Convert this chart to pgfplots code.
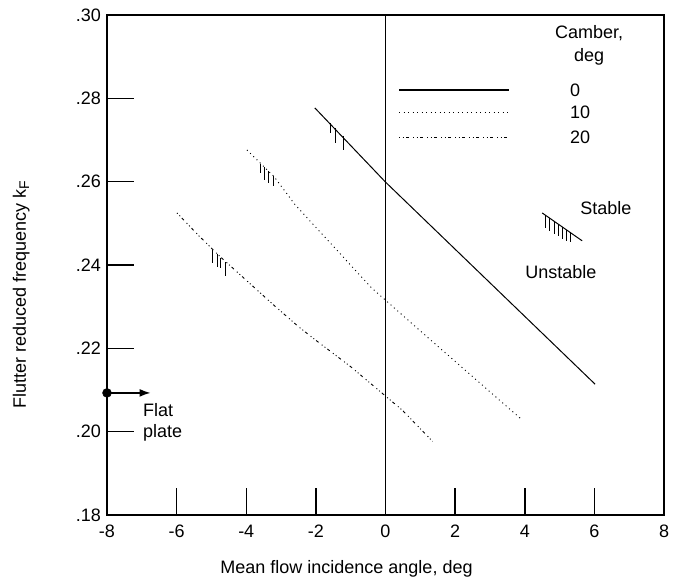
\documentclass[border=0pt]{standalone}
\usepackage{fontspec}
\setmainfont{Liberation Sans}
\usepackage{pgfplots}
\pgfplotsset{compat=1.18}
\usetikzlibrary{arrows.meta}
\begin{document}
\fontsize{18bp}{21bp}\selectfont
\begin{tikzpicture}
\begin{axis}[
  scale only axis, width=557bp, height=500bp,
  xmin=-8, xmax=8, ymin=0.18, ymax=0.30,
  xtick={-8,-6,-4,-2,0,2,4,6,8},
  xticklabels={-8,-6,-4,-2,0,2,4,6,8},
  ytick={0.18,0.20,0.22,0.24,0.26,0.28,0.30},
  yticklabels={.18,.20,.22,.24,.26,.28,.30},
  tick align=inside, xtick pos=bottom, ytick pos=left,
  major tick length=27bp,
  axis line style={line width=1.6bp},
  every tick/.style={black, line width=1.5bp},
  tick label style={font=\fontsize{18bp}{21bp}\selectfont},
  xticklabel style={yshift=-4bp},
  label style={font=\fontsize{18bp}{21bp}\selectfont},
  xlabel={Mean flow incidence angle, deg},
  xlabel style={at={(axis description cs:0.43,0)}, anchor=north, yshift=-39bp},
  ylabel={Flutter reduced frequency k\raisebox{-0.35ex}{\fontsize{14bp}{14bp}\selectfont F}},
  ylabel style={at={(axis description cs:-0.128,0.44)}, anchor=south, rotate=0},
  clip=false,
  unbounded coords=jump,
]
% zero line
\addplot[black, line width=1.5bp] coordinates {(0,0.18) (0,0.30)};

% camber 0
\addplot[black, line width=1bp] coordinates {(-2.03,0.2777) (0,0.2599) (6.02,0.2114)};
% camber 10
\addplot[black, line width=0.9bp, dash pattern=on 1bp off 3.5bp] coordinates {
 (-3.98,0.2676) (-3.2,0.2612) (-2.6,0.2545) (-0.4,0.2345) (1.16,0.2230) (3.9,0.2030)};
% camber 20
\addplot[black, line width=0.9bp, dash pattern=on 1bp off 2.5bp on 1bp off 2.5bp on 3bp off 4bp] coordinates {
 (-5.99,0.2525) (-5.36,0.2470) (-4.75,0.2420) (-3.2,0.2303) (-2.5,0.2252) (-1.98,0.2218) (-1.0,0.2156) (0.49,0.2051) (1.35,0.1977)};

% hatches (stability boundary marks)
\addplot[black, line width=1bp] coordinates {
 (-1.59,0.2741) (-1.59,0.2717) (-1.59,nan)
 (-1.45,0.2729) (-1.45,0.2693) (-1.45,nan)
 (-1.22,0.2710) (-1.22,0.2676)};
\addplot[black, line width=1bp] coordinates {
 (-3.58,0.2643) (-3.58,0.2620) (-3.58,nan)
 (-3.47,0.2635) (-3.47,0.2605) (-3.47,nan)
 (-3.37,0.2626) (-3.37,0.2598) (-3.37,nan)
 (-3.23,0.2614) (-3.23,0.2590)};
\addplot[black, line width=1bp] coordinates {
 (-4.96,0.2435) (-4.96,0.2405) (-4.96,nan)
 (-4.84,0.2426) (-4.84,0.2395) (-4.84,nan)
 (-4.73,0.2418) (-4.73,0.2393) (-4.73,nan)
 (-4.59,0.2407) (-4.59,0.2374)};

% stability key
\addplot[black, line width=1bp] coordinates {(4.5,0.2525) (5.65,0.2458)};
\addplot[black, line width=0.9bp] coordinates {
 (4.60,0.2519) (4.60,0.2490) (4.60,nan)
 (4.72,0.2512) (4.72,0.2482) (4.72,nan)
 (4.84,0.2505) (4.84,0.2475) (4.84,nan)
 (4.96,0.2498) (4.96,0.2469) (4.96,nan)
 (5.08,0.2491) (5.08,0.2463) (5.08,nan)
 (5.20,0.2484) (5.20,0.2458) (5.20,nan)
 (5.32,0.2477) (5.32,0.2455)};

% legend lines
\addplot[black, line width=1.2bp] coordinates {(0.39,0.2820) (3.55,0.2820)};
\addplot[black, line width=0.9bp, dash pattern=on 1bp off 3.5bp] coordinates {(0.39,0.2767) (3.55,0.2767)};
\addplot[black, line width=0.9bp, dash pattern=on 1bp off 2.5bp on 1bp off 2.5bp on 3bp off 4bp] coordinates {(0.39,0.2707) (3.55,0.2707)};

% flat plate marker
\addplot[black, only marks, mark=*, mark size=4.5bp] coordinates {(-8,0.2093)};
\addplot[black, line width=1.5bp, -{Latex[length=11bp,width=8bp]}] coordinates {(-8,0.2093) (-6.75,0.2093)};

\node[anchor=north west, align=left, inner sep=0pt, font=\fontsize{18bp}{21bp}\selectfont] at (axis cs:-6.97,0.2068) {Flat\\plate};
\node[align=center, inner sep=0pt, font=\fontsize{18bp}{23bp}\selectfont] at (axis cs:5.85,0.2926) {Camber,\\deg};
\node[anchor=west, inner sep=0pt] at (axis cs:5.30,0.2820) {0};
\node[anchor=west, inner sep=0pt] at (axis cs:5.30,0.2767) {10};
\node[anchor=west, inner sep=0pt] at (axis cs:5.30,0.2707) {20};
\node[inner sep=0pt] at (axis cs:6.33,0.2537) {Stable};
\node[inner sep=0pt] at (axis cs:5.04,0.2383) {Unstable};
\end{axis}
\pgfresetboundingbox
\useasboundingbox ([shift={(-107bp,-66bp)}]current axis.south west) rectangle ([shift={(14bp,15bp)}]current axis.north east);
\end{tikzpicture}
\end{document}
